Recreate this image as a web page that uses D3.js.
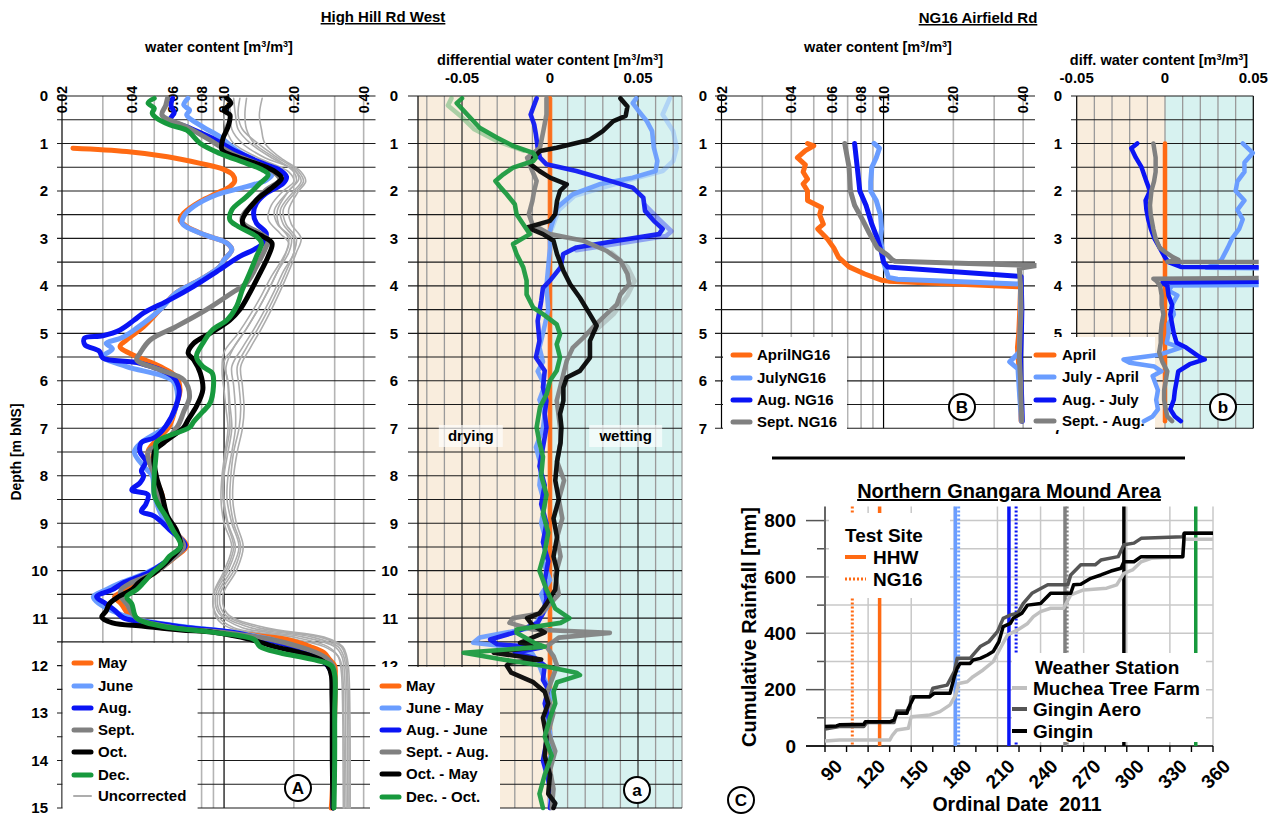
<!DOCTYPE html>
<html>
<head>
<meta charset="utf-8">
<script src="https://cdn.jsdelivr.net/npm/d3@7"></script>
<style>
  body { margin: 0; background: #fff; }
  svg { font-family: "Liberation Sans", Arial, Helvetica, sans-serif; font-weight: bold; }
</style>
</head>
<body>
<svg id="chart" width="1276" height="817"></svg>
<script>
// ---------------- tick labels
var wcTicks = [0.02, 0.04, 0.06, 0.08, 0.10, 0.20, 0.40];
var wcGrid = [0.03, 0.04, 0.05, 0.06, 0.07, 0.08, 0.09, 0.2, 0.3, 0.4];
var diffTicks = [-0.05, 0, 0.05];
var depthLabelsA = [0, 1, 2, 3, 4, 5, 6, 7, 8, 9, 10, 11, 12, 13, 14, 15];
var depthLabelsB = [0, 1, 2, 3, 4, 5, 6, 7];
var dayTicks = [90, 120, 150, 180, 210, 240, 270, 300, 330, 360];
var rainTicks = [0, 200, 400, 600, 800];

// ---------------- High Hill Rd West, water content [depth, m3/m3]
var hhwMay = [[1.1,0.0223],[1.17,0.038],[1.28,0.057],[1.42,0.079],[1.54,0.099],[1.66,0.109],[1.8,0.111],[1.91,0.106],[2.05,0.093],[2.22,0.079],[2.47,0.067],[2.61,0.0646],[2.75,0.069],[2.93,0.083],[3.1,0.103],[3.24,0.108],[3.45,0.1],[3.59,0.096],[3.87,0.079],[4.15,0.062],[4.5,0.053],[4.86,0.045],[5.14,0.038],[5.28,0.0356],[5.49,0.042],[5.7,0.053],[5.91,0.062],[6.19,0.0646],[6.54,0.062],[6.96,0.058],[7.3,0.05],[7.5,0.047],[8.0,0.05],[8.4,0.054],[8.85,0.056],[9.13,0.06],[9.48,0.069],[9.7,0.062],[9.84,0.057],[10.05,0.05],[10.25,0.042],[10.4,0.038],[10.55,0.0337],[10.7,0.036],[11.0,0.04],[11.17,0.05],[11.3,0.1],[11.45,0.187],[11.6,0.235],[11.73,0.27],[11.87,0.285],[12.0,0.3],[12.2,0.302],[13,0.3],[14,0.296],[14.8,0.292],[15,0.29]];
var hhwJune = [[0.05,0.0698],[0.19,0.067],[0.3,0.071],[0.4,0.069],[0.65,0.081],[0.86,0.096],[1.14,0.113],[1.42,0.143],[1.63,0.162],[1.77,0.152],[1.91,0.125],[2.08,0.093],[2.33,0.074],[2.54,0.067],[2.68,0.066],[2.78,0.07],[2.93,0.083],[3.1,0.103],[3.24,0.108],[3.45,0.1],[3.59,0.096],[3.87,0.079],[4.15,0.062],[4.5,0.053],[4.89,0.042],[5.1,0.036],[5.21,0.031],[5.33,0.033],[5.49,0.030],[5.7,0.038],[6.0,0.06],[6.3,0.063],[6.65,0.061],[6.96,0.056],[7.3,0.044],[7.5,0.041],[7.8,0.045],[8.0,0.049],[8.4,0.05],[8.85,0.054],[9.13,0.06],[9.48,0.068],[9.7,0.06],[9.84,0.055],[10.05,0.046],[10.25,0.036],[10.4,0.031],[10.55,0.0273],[10.7,0.029],[10.85,0.033],[11.0,0.04],[11.15,0.06],[11.3,0.11],[11.45,0.16],[11.6,0.198],[11.73,0.23],[11.87,0.26],[12.0,0.28],[12.2,0.295],[13,0.298],[14,0.297],[15,0.295]];
var hhwAug = [[0.05,0.06],[0.2,0.059],[0.35,0.061],[0.5,0.0585],[0.65,0.069],[0.89,0.089],[1.17,0.113],[1.42,0.147],[1.56,0.174],[1.7,0.186],[1.84,0.18],[2.05,0.152],[2.26,0.138],[2.47,0.134],[2.68,0.138],[2.89,0.152],[3.1,0.147],[3.24,0.134],[3.38,0.117],[3.7,0.093],[4.01,0.074],[4.29,0.0585],[4.57,0.045],[4.72,0.041],[4.93,0.0356],[5.05,0.03],[5.1,0.025],[5.24,0.0251],[5.38,0.029],[5.52,0.03],[5.63,0.0434],[5.91,0.06],[6.19,0.064],[6.54,0.062],[6.96,0.056],[7.2,0.05],[7.3,0.044],[7.5,0.0434],[7.7,0.046],[7.9,0.044],[8.0,0.045],[8.15,0.0434],[8.3,0.04],[8.4,0.047],[8.6,0.046],[8.75,0.044],[8.85,0.05],[9.13,0.058],[9.48,0.068],[9.7,0.06],[9.84,0.055],[10.05,0.047],[10.25,0.037],[10.4,0.033],[10.55,0.0282],[10.7,0.031],[10.85,0.034],[11.0,0.037],[11.1,0.05],[11.2,0.07],[11.3,0.11],[11.45,0.15],[11.6,0.198],[11.73,0.235],[11.87,0.26],[12.0,0.28],[12.2,0.293],[13,0.297],[14,0.297],[15,0.295]];
var hhwSept = [[0.05,0.057],[0.2,0.056],[0.4,0.054],[0.65,0.069],[0.93,0.087],[1.21,0.108],[1.45,0.143],[1.63,0.167],[1.77,0.174],[1.98,0.152],[2.26,0.134],[2.54,0.12],[2.68,0.121],[2.89,0.143],[3.03,0.155],[3.17,0.152],[3.59,0.138],[3.94,0.125],[4.15,0.108],[4.5,0.084],[4.86,0.062],[5.14,0.048],[5.42,0.0434],[5.56,0.042],[5.77,0.053],[5.98,0.067],[6.33,0.071],[6.65,0.067],[6.96,0.063],[7.3,0.055],[7.5,0.047],[8.0,0.05],[8.4,0.052],[8.85,0.056],[9.13,0.06],[9.48,0.067],[9.84,0.057],[10.05,0.05],[10.25,0.04],[10.4,0.036],[10.55,0.036],[10.7,0.038],[11.0,0.042],[11.2,0.06],[11.3,0.1],[11.45,0.16],[11.6,0.21],[11.73,0.25],[11.87,0.28],[12.0,0.295],[12.2,0.3],[13,0.3],[14,0.298],[15,0.296]];
var hhwOct = [[0.05,0.103],[0.15,0.107],[0.3,0.1],[0.4,0.106],[0.65,0.104],[0.89,0.099],[1.14,0.098],[1.28,0.113],[1.45,0.143],[1.6,0.167],[1.73,0.177],[1.91,0.163],[2.19,0.138],[2.61,0.12],[2.75,0.122],[2.96,0.147],[3.1,0.161],[3.38,0.155],[3.73,0.143],[4.15,0.129],[4.5,0.117],[4.72,0.106],[5.0,0.087],[5.21,0.074],[5.42,0.07],[5.56,0.074],[5.84,0.079],[6.19,0.081],[6.54,0.076],[6.82,0.07],[6.98,0.067],[7.3,0.055],[7.5,0.05],[8.0,0.051],[8.4,0.054],[8.85,0.057],[9.13,0.062],[9.48,0.065],[9.7,0.06],[9.84,0.056],[10.05,0.05],[10.25,0.043],[10.4,0.04],[10.55,0.035],[10.7,0.032],[10.85,0.031],[10.98,0.0297],[11.1,0.033],[11.17,0.045],[11.25,0.065],[11.3,0.09],[11.45,0.13],[11.6,0.165],[11.73,0.215],[11.87,0.26],[12.0,0.28],[12.2,0.29],[12.6,0.292],[13,0.293],[14,0.293],[15,0.295]];
var hhwDec = [[0.05,0.05],[0.15,0.047],[0.26,0.05],[0.36,0.049],[0.46,0.051],[0.61,0.0585],[0.72,0.069],[1.0,0.079],[1.21,0.096],[1.42,0.125],[1.56,0.147],[1.66,0.155],[1.84,0.143],[2.12,0.125],[2.4,0.108],[2.61,0.106],[2.75,0.115],[2.96,0.138],[3.1,0.145],[3.38,0.138],[3.73,0.129],[4.08,0.12],[4.44,0.113],[4.72,0.103],[4.93,0.089],[5.21,0.081],[5.49,0.076],[5.7,0.081],[5.84,0.089],[6.12,0.09],[6.47,0.087],[6.65,0.081],[6.86,0.074],[6.98,0.071],[7.3,0.051],[7.5,0.051],[8.0,0.05],[8.4,0.05],[8.6,0.052],[8.85,0.056],[9.13,0.06],[9.48,0.065],[9.7,0.058],[9.84,0.055],[10.05,0.049],[10.25,0.045],[10.4,0.042],[10.55,0.038],[10.7,0.04],[11.0,0.042],[11.17,0.054],[11.3,0.09],[11.45,0.135],[11.6,0.143],[11.73,0.174],[11.87,0.24],[12.0,0.29],[12.2,0.3],[13,0.3],[14,0.3],[15,0.298]];

// uncorrected profiles (thin grey)
var unc1 = [[0.05,0.099],[0.3,0.101],[0.5,0.1],[0.8,0.104],[1.0,0.11],[1.3,0.14],[1.6,0.19],[1.8,0.2],[2.0,0.18],[2.3,0.16],[2.6,0.155],[2.9,0.175],[3.1,0.19],[3.4,0.18],[3.8,0.16],[4.2,0.145],[4.6,0.13],[5.0,0.115],[5.4,0.1],[5.8,0.098],[6.2,0.1],[6.6,0.102],[7.0,0.104],[7.5,0.101],[8.0,0.098],[8.5,0.097],[9.0,0.1],[9.5,0.108],[10.0,0.1],[10.5,0.09],[11.0,0.093],[11.2,0.105],[11.4,0.18],[11.6,0.27],[11.8,0.31],[12.0,0.322],[13,0.328],[14,0.33],[15,0.33]];
var unc2 = [[0.05,0.104],[0.4,0.107],[0.7,0.108],[1.0,0.12],[1.3,0.15],[1.55,0.2],[1.75,0.21],[2.0,0.19],[2.4,0.165],[2.7,0.17],[3.0,0.195],[3.3,0.19],[3.7,0.17],[4.1,0.155],[4.5,0.14],[4.9,0.125],[5.3,0.11],[5.6,0.1],[6.0,0.104],[6.5,0.106],[7.0,0.108],[7.5,0.104],[8.0,0.1],[8.5,0.1],[9.0,0.104],[9.5,0.112],[10.0,0.104],[10.5,0.092],[10.9,0.095],[11.2,0.12],[11.4,0.22],[11.6,0.3],[11.8,0.322],[12.1,0.33],[13,0.334],[14,0.335],[15,0.336]];
var unc3 = [[0.05,0.11],[0.4,0.112],[0.7,0.115],[1.0,0.13],[1.3,0.16],[1.6,0.205],[1.8,0.215],[2.0,0.2],[2.4,0.175],[2.7,0.18],[3.0,0.2],[3.3,0.2],[3.7,0.18],[4.1,0.165],[4.5,0.15],[4.9,0.135],[5.3,0.12],[5.7,0.108],[6.1,0.11],[6.6,0.112],[7.0,0.112],[7.5,0.108],[8.0,0.104],[8.5,0.103],[9.0,0.108],[9.5,0.116],[10.0,0.107],[10.5,0.094],[10.9,0.097],[11.2,0.13],[11.4,0.24],[11.6,0.31],[11.8,0.328],[12.1,0.336],[13,0.34],[14,0.341],[15,0.342]];
var unc4 = [[0.05,0.117],[0.4,0.115],[0.7,0.12],[1.0,0.14],[1.3,0.17],[1.6,0.21],[1.8,0.22],[2.0,0.205],[2.4,0.18],[2.7,0.185],[3.0,0.205],[3.3,0.2],[3.7,0.185],[4.1,0.17],[4.5,0.155],[4.9,0.14],[5.3,0.125],[5.7,0.114],[6.1,0.116],[6.6,0.118],[7.0,0.116],[7.5,0.11],[8.0,0.107],[8.5,0.106],[9.0,0.11],[9.5,0.118],[10.0,0.11],[10.5,0.096],[10.9,0.1],[11.2,0.14],[11.4,0.26],[11.6,0.32],[11.8,0.334],[12.1,0.34],[13,0.345],[14,0.346],[15,0.346]];
var unc5 = [[0.05,0.125],[0.4,0.123],[0.7,0.125],[1.0,0.135],[1.3,0.165],[1.6,0.2],[1.8,0.205],[2.0,0.19],[2.4,0.17],[2.7,0.172],[3.0,0.19],[3.3,0.185],[3.7,0.17],[4.1,0.155],[4.5,0.14],[4.9,0.125],[5.3,0.11],[5.7,0.102],[6.1,0.104],[6.6,0.105],[7.0,0.106],[7.5,0.102],[8.0,0.099],[8.5,0.099],[9.0,0.103],[9.5,0.11],[10.0,0.102],[10.5,0.09],[10.9,0.092],[11.2,0.11],[11.4,0.2],[11.6,0.28],[11.8,0.31],[12.1,0.32],[13,0.325],[14,0.326],[15,0.327]];
var unc6 = [[0.05,0.146],[0.4,0.142],[0.7,0.145],[1.0,0.15],[1.3,0.175],[1.6,0.215],[1.8,0.225],[2.0,0.21],[2.4,0.19],[2.7,0.195],[3.0,0.215],[3.3,0.205],[3.7,0.19],[4.1,0.175],[4.5,0.16],[4.9,0.145],[5.3,0.13],[5.7,0.118],[6.1,0.12],[6.6,0.122],[7.0,0.12],[7.5,0.114],[8.0,0.11],[8.5,0.109],[9.0,0.113],[9.5,0.121],[10.0,0.113],[10.5,0.099],[10.9,0.103],[11.2,0.15],[11.4,0.27],[11.6,0.325],[11.8,0.338],[12.1,0.345],[13,0.349],[14,0.35],[15,0.35]];

// ---------------- High Hill Rd West, differential water content
var dMay = [[0.05,0],[15,0]];
var dJuneMay = [[0.05,0.049],[0.15,0.047],[0.3,0.05],[0.53,0.055],[0.74,0.058],[1.09,0.059],[1.37,0.061],[1.58,0.06],[1.72,0.047],[1.86,0.028],[2.07,0.013],[2.35,0.004],[2.63,0.0017],[2.84,0.0],[3.2,0.0],[3.6,-0.001],[4.0,-0.002],[4.5,-0.001],[5.0,-0.004],[5.3,-0.006],[5.6,-0.004],[5.8,-0.007],[6.1,-0.003],[6.4,-0.006],[6.7,-0.003],[7.0,-0.004],[7.4,-0.008],[7.8,-0.005],[8.2,-0.006],[8.6,-0.003],[9.0,-0.005],[9.4,-0.002],[9.8,-0.004],[10.2,0.0],[10.5,-0.005],[10.8,-0.002],[11.0,-0.006],[11.2,-0.01],[11.41,-0.04],[11.52,-0.0436],[11.62,-0.02],[11.75,-0.01],[12.0,-0.006],[12.3,-0.003],[12.6,0.001],[13.0,-0.002],[13.4,0.0],[13.8,0.001],[14.2,-0.002],[14.6,0.0],[15.0,0.0]];
var dAugJune = [[0.05,-0.0076],[0.39,-0.011],[0.6,-0.009],[0.81,-0.008],[1.09,-0.007],[1.3,-0.0057],[1.44,-0.002],[1.58,0.015],[1.72,0.028],[1.93,0.047],[2.14,0.053],[2.42,0.054],[2.63,0.059],[2.8,0.064],[2.91,0.062],[3.05,0.038],[3.19,0.015],[3.33,0.0075],[3.61,0.006],[3.89,0.0],[4.04,-0.004],[4.32,-0.005],[4.74,-0.007],[5.16,-0.006],[5.51,-0.008],[5.79,-0.003],[6.14,-0.004],[6.42,-0.002],[6.7,-0.003],[6.98,-0.002],[7.4,-0.004],[7.8,-0.006],[8.2,-0.003],[8.6,-0.005],[9.0,-0.002],[9.4,-0.004],[9.8,-0.001],[10.2,-0.003],[10.6,-0.002],[10.9,-0.004],[11.1,-0.007],[11.3,-0.02],[11.45,-0.034],[11.55,-0.03],[11.62,-0.005],[11.73,-0.02],[11.85,-0.008],[12.0,-0.003],[12.3,-0.004],[12.5,-0.001],[12.8,-0.003],[13.2,0.0],[13.6,-0.002],[14.0,-0.004],[14.4,-0.001],[14.8,0.001],[15.0,0.0]];
var dSeptAug = [[0.05,-0.002],[0.39,-0.002],[0.74,-0.0038],[1.09,-0.0057],[1.3,-0.013],[1.5,-0.011],[1.79,-0.0076],[2.0,-0.009],[2.21,-0.01],[2.49,-0.012],[2.7,-0.01],[2.91,0.0],[3.05,0.019],[3.26,0.032],[3.47,0.04],[3.75,0.044],[3.96,0.045],[4.18,0.04],[4.39,0.038],[4.6,0.032],[4.81,0.026],[5.09,0.019],[5.3,0.013],[5.58,0.0095],[5.86,0.0076],[6.14,0.0057],[6.42,0.0038],[6.7,0.0048],[6.98,0.0057],[7.3,0.006],[7.7,0.004],[8.1,0.008],[8.5,0.005],[8.9,0.007],[9.3,0.004],[9.7,0.006],[10.1,0.003],[10.5,0.005],[10.9,-0.005],[11.0,-0.021],[11.1,-0.023],[11.24,-0.01],[11.31,0.034],[11.41,0.005],[11.6,-0.002],[11.8,0.002],[12.0,0.004],[12.3,0.001],[12.6,-0.002],[13.0,0.002],[13.4,-0.001],[13.8,0.003],[14.2,0.0],[14.6,0.002],[15.0,0.001]];
var dOctMay = [[0.05,0.04],[0.22,0.044],[0.42,0.043],[0.53,0.036],[0.74,0.03],[0.92,0.0227],[1.09,0.0038],[1.16,-0.0057],[1.3,-0.0095],[1.44,-0.011],[1.58,-0.006],[1.72,0.0],[1.86,0.0095],[2.0,0.0057],[2.21,0.004],[2.49,0.003],[2.63,0.0],[2.77,-0.013],[2.91,-0.004],[3.05,0.002],[3.33,0.004],[3.68,0.0076],[3.96,0.0114],[4.25,0.017],[4.6,0.0227],[4.84,0.0265],[5.16,0.0227],[5.51,0.0227],[5.79,0.017],[5.93,0.0095],[6.14,0.0076],[6.42,0.0076],[6.7,0.0057],[6.98,0.0065],[7.3,0.006],[7.7,0.004],[8.1,0.003],[8.5,0.005],[8.9,0.002],[9.3,0.004],[9.7,0.002],[10.0,0.004],[10.4,0.003],[10.7,-0.002],[10.9,-0.006],[11.0,-0.013],[11.15,-0.01],[11.3,-0.003],[11.52,-0.017],[11.59,-0.005],[11.73,-0.032],[11.87,-0.005],[11.94,-0.023],[12.0,-0.0246],[12.15,-0.022],[12.35,-0.0095],[12.55,-0.003],[12.8,-0.001],[13.1,-0.004],[13.5,-0.002],[13.9,-0.003],[14.3,0.0],[14.7,-0.001],[14.9,0.003],[15.0,0.002]];
var dDecOct = [[0.05,-0.05],[0.15,-0.053],[0.39,-0.047],[0.67,-0.04],[0.88,-0.03],[1.05,-0.021],[1.2,-0.0095],[1.3,-0.008],[1.37,-0.0095],[1.51,-0.021],[1.65,-0.0265],[1.79,-0.031],[1.93,-0.028],[2.07,-0.0246],[2.28,-0.02],[2.49,-0.019],[2.7,-0.0152],[2.91,-0.0114],[3.12,-0.021],[3.33,-0.019],[3.61,-0.0152],[3.89,-0.0133],[4.18,-0.0133],[4.46,-0.0095],[4.6,-0.0038],[4.81,0.0038],[5.02,0.0057],[5.23,0.0038],[5.51,0.0057],[5.79,0.0038],[6.0,0.0],[6.28,-0.0019],[6.56,-0.0057],[6.98,-0.0076],[7.3,-0.006],[7.6,-0.004],[8.0,-0.005],[8.4,-0.002],[8.8,-0.004],[9.2,-0.001],[9.6,-0.003],[10.0,-0.006],[10.4,-0.002],[10.8,0.003],[11.0,0.011],[11.1,0.006],[11.24,-0.019],[11.31,-0.019],[11.52,-0.009],[11.6,-0.003],[11.73,-0.049],[11.87,-0.027],[11.94,-0.015],[12.0,-0.005],[12.15,0.015],[12.2,0.017],[12.35,0.004],[12.55,0.002],[12.8,0.003],[13.1,0.0],[13.5,-0.003],[13.9,0.001],[14.3,-0.003],[14.7,-0.006],[15.0,-0.004]];
// faint duplicates visible behind some difference profiles
var dJuneMayFaint = [[0.05,0.068],[0.39,0.064],[0.74,0.07],[1.09,0.072],[1.37,0.07],[1.58,0.064],[1.75,0.047],[1.93,0.03],[2.1,0.014],[2.4,0.005],[2.8,0.001]];
var dAugJuneFaint = [[2.3,0.054],[2.6,0.062],[2.85,0.069],[2.95,0.066],[3.1,0.04],[3.25,0.015]];
var dDecOctFaint = [[0.05,-0.056],[0.2,-0.058],[0.45,-0.05],[0.7,-0.043],[0.95,-0.03],[1.15,-0.015]];
var dSeptAugFaint = [[3.3,0.035],[3.6,0.044],[3.9,0.048],[4.2,0.044],[4.6,0.036],[5.0,0.024]];

// ---------------- NG16 Airfield Rd, water content
var ngApril = [[1.0,0.047],[1.05,0.050],[1.15,0.046],[1.3,0.0425],[1.45,0.046],[1.6,0.045],[1.75,0.047],[1.85,0.045],[2.0,0.047],[2.2,0.047],[2.35,0.054],[2.5,0.053],[2.7,0.055],[2.8,0.052],[3.0,0.057],[3.2,0.061],[3.4,0.064],[3.6,0.071],[3.75,0.083],[3.88,0.098],[3.9,0.105],[4.02,0.39],[4.5,0.387],[5.0,0.383],[5.3,0.378],[5.6,0.382],[6.0,0.387],[6.5,0.39],[6.85,0.392]];
var ngJuly = [[1.0,0.091],[1.1,0.096],[1.3,0.093],[1.5,0.089],[1.8,0.088],[2.0,0.088],[2.2,0.093],[2.5,0.097],[2.8,0.098],[3.0,0.097],[3.3,0.099],[3.5,0.1],[3.7,0.103],[3.82,0.105],[3.86,0.115],[3.96,0.39],[4.5,0.39],[5.0,0.388],[5.4,0.385],[5.6,0.35],[5.75,0.38],[6.2,0.385],[6.6,0.39],[6.85,0.393]];
var ngAug = [[1.0,0.075],[1.5,0.077],[2.0,0.079],[2.3,0.084],[2.7,0.089],[3.0,0.094],[3.3,0.098],[3.5,0.1],[3.6,0.104],[3.8,0.392],[4.5,0.395],[5.0,0.393],[5.5,0.39],[6.0,0.392],[6.5,0.395],[6.85,0.397]];
var ngSept = [[1.0,0.068],[1.5,0.071],[2.0,0.072],[2.3,0.075],[2.6,0.081],[2.9,0.087],[3.2,0.094],[3.35,0.104],[3.45,0.109],[3.48,0.112],[3.57,0.46],[3.63,0.385],[4.0,0.39],[4.5,0.392],[5.0,0.388],[5.5,0.385],[6.0,0.39],[6.5,0.392],[6.85,0.395]];

// ---------------- NG16 differential water content
var ngdApril = [[1.0,0],[6.85,0]];
var ngdJulyApril = [[1.0,0.044],[1.2,0.0497],[1.4,0.045],[1.6,0.045],[1.8,0.041],[2.0,0.04],[2.2,0.045],[2.4,0.041],[2.6,0.044],[2.8,0.042],[3.0,0.038],[3.2,0.0355],[3.45,0.032],[3.55,0.028],[3.62,0.0235],[3.66,0.2],[3.95,0.2],[3.99,0.004],[4.1,0.002],[4.2,0.007],[4.4,0.004],[4.6,0.005],[4.8,0.002],[5.0,0.002],[5.2,0.001],[5.3,0.009],[5.45,-0.003],[5.55,-0.0235],[5.62,-0.02],[5.7,-0.006],[5.8,-0.002],[5.9,-0.007],[6.0,-0.006],[6.2,-0.004],[6.4,-0.005],[6.6,-0.004],[6.75,-0.007],[6.85,-0.012]];
var ngdAugJuly = [[1.0,-0.0157],[1.1,-0.0191],[1.3,-0.0165],[1.5,-0.0133],[1.8,-0.0105],[2.0,-0.0085],[2.2,-0.011],[2.4,-0.0105],[2.6,-0.0095],[2.8,-0.008],[3.0,-0.006],[3.2,-0.003],[3.4,0.0],[3.5,0.002],[3.6,0.009],[3.63,0.2],[3.87,0.2],[3.93,-0.0015],[4.0,0.0013],[4.2,0.002],[4.4,0.004],[4.6,0.003],[4.8,0.004],[5.0,0.005],[5.2,0.0066],[5.3,0.012],[5.5,0.0197],[5.55,0.0225],[5.65,0.014],[5.8,0.0075],[6.0,0.0066],[6.2,0.0056],[6.4,0.005],[6.6,0.003],[6.75,0.0056],[6.85,0.009]];
var ngdSeptAug = [[1.0,-0.0066],[1.3,-0.0053],[1.6,-0.0053],[1.8,-0.0062],[2.0,-0.0077],[2.3,-0.0085],[2.5,-0.0081],[2.8,-0.0066],[3.0,-0.0053],[3.2,-0.003],[3.3,0.0006],[3.4,0.0047],[3.45,0.0076],[3.49,0.0013],[3.51,0.2],[3.8,0.2],[3.85,-0.0066],[3.9,-0.0047],[4.0,-0.0028],[4.2,-0.0019],[4.4,-0.0019],[4.6,-0.0009],[4.8,-0.0019],[5.0,-0.0024],[5.2,-0.0024],[5.4,-0.0033],[5.6,-0.0015],[5.8,0.0013],[6.0,0.0004],[6.2,-0.0005],[6.4,-0.0005],[6.6,0.0004],[6.75,0.0013],[6.85,0.004]];

// ---------------- Cumulative rainfall [ordinal day, mm]
var rainMuchea = [[90,18],[100,21],[135,21],[137,39],[140,57],[148,63],[150,104],[163,110],[170,122],[177,146],[181,181],[183,222],[189,228],[193,246],[200,270],[207,299],[212,347],[217,394],[224,412],[231,435],[235,459],[240,477],[247,489],[256,489],[261,536],[270,554],[286,560],[293,572],[298,613],[304,625],[310,654],[317,666],[339,672],[340,734],[360,734]];
var rainGinginAero = [[90,60],[100,69],[117,69],[119,83],[138,83],[140,124],[147,124],[149,134],[150,175],[163,175],[165,205],[175,216],[180,264],[182,311],[191,311],[193,323],[198,353],[204,370],[210,406],[214,453],[219,465],[224,471],[228,506],[234,542],[245,572],[259,572],[261,607],[268,643],[278,643],[282,660],[294,672],[298,714],[305,720],[310,737],[339,743],[340,755],[360,755]];
var rainGingin = [[90,69],[98,71],[100,75],[117,77],[118,86],[135,86],[138,92],[140,116],[147,116],[148,134],[152,175],[163,175],[166,187],[177,187],[180,246],[182,276],[184,293],[191,293],[193,305],[198,311],[203,323],[207,335],[211,370],[214,424],[219,435],[221,453],[227,471],[231,500],[240,506],[247,542],[261,542],[263,572],[268,574],[275,595],[282,607],[289,621],[296,631],[298,654],[305,654],[310,672],[339,672],[340,755],[360,755]];

// measurement dates (ordinal day)
var hhwDates = [128, 180.7, 218, 257, 298, 348];
var ng16Dates = [109, 183, 223, 258.5];

// ---------------- colours
var cOrange = "#ff6a13", cLight = "#6a9dff", cBlue = "#0a14f5", cGray = "#808080", cBlack = "#000000", cGreen = "#17993d";
var hhwColors = [cOrange, cLight, cBlue, cGray, cBlack, cGreen];
var ngColors = [cOrange, cLight, cBlue, cGray];

var svg = d3.select("#chart");
var defs = svg.append("defs");

function clip(id, x, y, w, h) {
    defs.append("clipPath").attr("id", id).append("rect")
        .attr("x", x).attr("y", y).attr("width", w).attr("height", h);
}

function unitTitle(x, y, prefix, size) {
    var t = svg.append("text").attr("x", x).attr("y", y)
        .attr("text-anchor", "middle").attr("font-size", size);
    t.append("tspan").text(prefix + " [m");
    t.append("tspan").attr("dy", -5).attr("font-size", size * 0.62).text("3");
    t.append("tspan").attr("dy", 5).text("/m");
    t.append("tspan").attr("dy", -5).attr("font-size", size * 0.62).text("3");
    t.append("tspan").attr("dy", 5).text("]");
}

function circled(x, y, letter) {
    svg.append("circle").attr("cx", x).attr("cy", y).attr("r", 13)
        .attr("fill", "#fff").attr("stroke", "#000").attr("stroke-width", 2);
    svg.append("text").attr("x", x).attr("y", y).attr("dy", "0.36em")
        .attr("text-anchor", "middle").attr("font-size", 17).text(letter);
}

function legend(items, x0, lineLen, textX, rows, size) {
    items.forEach(function(it, i) {
        svg.append("line").attr("x1", x0).attr("x2", x0 + lineLen)
            .attr("y1", rows[i]).attr("y2", rows[i])
            .attr("stroke", it.color).attr("stroke-width", it.width || 5)
            .attr("stroke-linecap", "round");
        svg.append("text").attr("x", textX).attr("y", rows[i]).attr("dy", "0.36em")
            .attr("font-size", size).text(it.label);
    });
}

function hGrid(y, depths, x1, x2) {
    svg.append("g").selectAll("line").data(depths).enter().append("line")
        .attr("x1", x1).attr("x2", x2)
        .attr("y1", function(d) { return y(d); }).attr("y2", function(d) { return y(d); })
        .attr("stroke", "#1a1a1a").attr("stroke-width", 1.1);
}

function depthLabels(y, labels, x) {
    svg.append("g").selectAll("text").data(labels).enter().append("text")
        .attr("x", x).attr("y", function(d) { return y(d); }).attr("dy", "0.36em")
        .attr("text-anchor", "end").attr("font-size", 15).text(function(d) { return d; });
}

function profiles(id, x, y, series, colors, width, curve) {
    var line = d3.line()
        .x(function(d) { return x(d[1]); })
        .y(function(d) { return y(d[0]); })
        .curve(curve || d3.curveLinear);
    var g = svg.append("g").attr("clip-path", "url(#" + id + ")");
    series.forEach(function(s, i) {
        g.append("path").attr("d", line(s)).attr("fill", "none")
            .attr("stroke", colors[i]).attr("stroke-width", width)
            .attr("stroke-linejoin", "round").attr("stroke-linecap", "round");
    });
    return g;
}

function logGrid(x, y, maxDepth) {
    svg.append("g").selectAll("line").data(wcGrid).enter().append("line")
        .attr("x1", function(d) { return x(d); }).attr("x2", function(d) { return x(d); })
        .attr("y1", y(0)).attr("y2", y(maxDepth))
        .attr("stroke", "#b4b4b4").attr("stroke-width", 1.6);
    svg.append("line").attr("x1", x(0.1)).attr("x2", x(0.1)).attr("y1", y(0)).attr("y2", y(maxDepth))
        .attr("stroke", "#000").attr("stroke-width", 1.2);
    svg.append("line").attr("x1", x(0.02)).attr("x2", x(0.02)).attr("y1", y(0)).attr("y2", y(maxDepth))
        .attr("stroke", "#000").attr("stroke-width", 1.2);
    svg.append("g").selectAll("text").data(wcTicks).enter().append("text")
        .attr("transform", function(d) { return "translate(" + x(d) + ",86) rotate(-90)"; })
        .attr("dy", "0.36em").attr("text-anchor", "end").attr("font-size", 14)
        .text(function(d) { return d.toFixed(2); });
}

function diffTicksTop(x, yBase) {
    svg.append("g").selectAll("text").data(diffTicks).enter().append("text")
        .attr("x", function(d) { return x(d); }).attr("y", yBase)
        .attr("text-anchor", "middle").attr("font-size", 15)
        .text(function(d) { return d === 0 ? "0" : d.toFixed(2); });
}

// ================= titles
svg.append("text").attr("x", 383).attr("y", 22).attr("text-anchor", "middle")
    .attr("font-size", 15).style("text-decoration", "underline").text("High Hill Rd West");
svg.append("text").attr("x", 978).attr("y", 23).attr("text-anchor", "middle")
    .attr("font-size", 15).style("text-decoration", "underline").text("NG16 Airfield Rd");

// ================= Panel A
var yA = d3.scaleLinear().domain([0, 15]).range([96, 808]);
var xA = d3.scaleLog().domain([0.02, 0.45]).range([62, 375.5]);
clip("clipA", 62, 90, 313.5, 722);
logGrid(xA, yA, 15);
hGrid(yA, d3.range(0, 15.01, 0.5), 57, 375.5);
depthLabels(yA, depthLabelsA, 48);
unitTitle(219, 52, "water content", 14.5);
svg.append("text").attr("transform", "translate(16,452) rotate(-90)").attr("dy", "0.36em")
    .attr("text-anchor", "middle").attr("font-size", 14).text("Depth [m bNS]");
svg.append("rect").attr("x", 62.6).attr("y", 643).attr("width", 135).attr("height", 168).attr("fill", "#fff");
profiles("clipA", xA, yA, [unc1, unc2, unc3, unc4, unc5, unc6],
    ["#adadad", "#adadad", "#adadad", "#adadad", "#adadad", "#adadad"], 1.6, d3.curveCatmullRom.alpha(0.5));
profiles("clipA", xA, yA, [hhwMay, hhwJune, hhwAug, hhwSept, hhwOct, hhwDec],
    hhwColors, 5, d3.curveCatmullRom.alpha(0.5));
legend([
    {label: "May", color: cOrange}, {label: "June", color: cLight}, {label: "Aug.", color: cBlue},
    {label: "Sept.", color: cGray}, {label: "Oct.", color: cBlack}, {label: "Dec.", color: cGreen},
    {label: "Uncorrected", color: "#adadad", width: 2}
], 74, 17, 98, [663, 686, 708, 730, 752, 775, 796], 15);
circled(298, 788, "A");

// ================= Panel a
var xa = d3.scaleLinear().domain([-0.075, 0.075]).range([418, 682]);
clip("clipa", 418, 90, 264, 722);
svg.append("rect").attr("x", xa(-0.075)).attr("y", yA(0)).attr("width", xa(0) - xa(-0.075))
    .attr("height", yA(15) - yA(0)).attr("fill", "#f9eddd");
svg.append("rect").attr("x", xa(0)).attr("y", yA(0)).attr("width", xa(0.075) - xa(0))
    .attr("height", yA(15) - yA(0)).attr("fill", "#d7f2f0");
svg.append("g").selectAll("line").data(d3.range(-0.07, 0.0701, 0.01)).enter().append("line")
    .attr("x1", function(d) { return xa(d); }).attr("x2", function(d) { return xa(d); })
    .attr("y1", yA(0)).attr("y2", yA(15))
    .attr("stroke", function(d) { return Math.abs(Math.abs(d) - 0.05) < 1e-6 ? "#333" : "#9a9a9a"; })
    .attr("stroke-width", 1.3);
svg.append("line").attr("x1", xa(-0.075)).attr("x2", xa(-0.075)).attr("y1", yA(0)).attr("y2", yA(15))
    .attr("stroke", "#000").attr("stroke-width", 1.2);
svg.append("line").attr("x1", xa(0.075)).attr("x2", xa(0.075)).attr("y1", yA(0)).attr("y2", yA(15))
    .attr("stroke", "#999").attr("stroke-width", 1.2);
hGrid(yA, d3.range(0, 15.01, 0.5), 408, 682);
depthLabels(yA, depthLabelsA, 398);
unitTitle(550, 65, "differential water content", 14.5);
diffTicksTop(xa, 83);
// drying / wetting labels
[["drying", -0.045, 64], ["wetting", 0.043, 73]].forEach(function(l) {
    svg.append("rect").attr("x", xa(l[1]) - l[2] / 2).attr("y", 425).attr("width", l[2]).attr("height", 22)
        .attr("fill", "#fff").attr("opacity", 0.65);
    svg.append("text").attr("x", xa(l[1])).attr("y", 436).attr("dy", "0.36em")
        .attr("text-anchor", "middle").attr("font-size", 15).text(l[0]);
});
var gFaint = profiles("clipa", xa, yA, [dJuneMayFaint, dAugJuneFaint, dSeptAugFaint, dDecOctFaint],
    [cLight, cBlue, cGray, cGreen], 4.6);
gFaint.attr("opacity", 0.35);
profiles("clipa", xa, yA, [dMay, dJuneMay, dAugJune, dSeptAug, dOctMay, dDecOct],
    hhwColors, 4.6).attr("opacity", 0.92);
svg.append("rect").attr("x", 370).attr("y", 667).attr("width", 130).attr("height", 150).attr("fill", "#fff");
legend([
    {label: "May", color: cOrange}, {label: "June - May", color: cLight}, {label: "Aug. - June", color: cBlue},
    {label: "Sept. - Aug.", color: cGray}, {label: "Oct. - May", color: cBlack}, {label: "Dec. - Oct.", color: cGreen}
], 382, 17, 406, [686, 708, 730, 752, 774, 797], 15);
circled(637, 790, "a");

// ================= Panel B
var yB = d3.scaleLinear().domain([0, 7]).range([96, 428.3]);
var xB = d3.scaleLog().domain([0.02, 0.45]).range([721.5, 1035]);
clip("clipB", 721.5, 90, 315, 345);
logGrid(xB, yB, 7);
hGrid(yB, d3.range(0, 7.01, 0.5), 715, 1035);
depthLabels(yB, depthLabelsB, 707);
unitTitle(878, 52, "water content", 14.5);
svg.append("rect").attr("x", 723).attr("y", 337).attr("width", 124).attr("height", 93).attr("fill", "#fff");
profiles("clipB", xB, yB, [ngApril, ngJuly, ngAug, ngSept], ngColors, 5);
legend([
    {label: "AprilNG16", color: cOrange}, {label: "JulyNG16", color: cLight},
    {label: "Aug. NG16", color: cBlue}, {label: "Sept. NG16", color: cGray}
], 733, 17, 757, [355, 378, 400, 422], 15);
circled(962, 407, "B");

// ================= Panel b
var xb = d3.scaleLinear().domain([-0.05, 0.05]).range([1076.7, 1253.3]);
clip("clipb", 1076.7, 90, 182, 345);
svg.append("rect").attr("x", xb(-0.05)).attr("y", yB(0)).attr("width", xb(0) - xb(-0.05))
    .attr("height", yB(7) - yB(0)).attr("fill", "#f9eddd");
svg.append("rect").attr("x", xb(0)).attr("y", yB(0)).attr("width", xb(0.05) - xb(0))
    .attr("height", yB(7) - yB(0)).attr("fill", "#d7f2f0");
svg.append("g").selectAll("line").data(d3.range(-0.04, 0.0401, 0.01)).enter().append("line")
    .attr("x1", function(d) { return xb(d); }).attr("x2", function(d) { return xb(d); })
    .attr("y1", yB(0)).attr("y2", yB(7)).attr("stroke", "#9a9a9a").attr("stroke-width", 1.3);
[-0.05, 0.05].forEach(function(v) {
    svg.append("line").attr("x1", xb(v)).attr("x2", xb(v)).attr("y1", yB(0)).attr("y2", yB(7))
        .attr("stroke", "#000").attr("stroke-width", 1.2);
});
hGrid(yB, d3.range(0, 7.01, 0.5), 1071, 1253.3);
depthLabels(yB, depthLabelsB, 1062);
unitTitle(1159, 65, "diff. water content", 14.5);
diffTicksTop(xb, 83);
svg.append("rect").attr("x", 1032).attr("y", 337).attr("width", 123).attr("height", 93).attr("fill", "#fff");
profiles("clipb", xb, yB, [ngdApril, ngdJulyApril, ngdAugJuly, ngdSeptAug], ngColors, 4.5);
legend([
    {label: "April", color: cOrange}, {label: "July - April", color: cLight},
    {label: "Aug. - July", color: cBlue}, {label: "Sept. - Aug.", color: cGray}
], 1036, 18, 1062, [355, 377, 400, 421], 15);
circled(1223, 407, "b");

// ================= separator
svg.append("line").attr("x1", 772).attr("x2", 1185).attr("y1", 458).attr("y2", 458)
    .attr("stroke", "#000").attr("stroke-width", 3);

// ================= Panel C (cumulative rainfall)
var xC = d3.scaleLinear().domain([90, 360]).range([825, 1213]);
var yC = d3.scaleLinear().domain([0, 850]).range([746, 506.5]);
svg.append("text").attr("x", 1009).attr("y", 498).attr("text-anchor", "middle")
    .attr("font-size", 20).style("text-decoration", "underline").text("Northern Gnangara Mound Area");
// grid
svg.append("g").selectAll("line").data(d3.range(100, 801, 100)).enter().append("line")
    .attr("x1", xC(90)).attr("x2", xC(360))
    .attr("y1", function(d) { return yC(d); }).attr("y2", function(d) { return yC(d); })
    .attr("stroke", "#c8c8c8").attr("stroke-width", 1.5);
svg.append("g").selectAll("line").data(dayTicks.slice(1)).enter().append("line")
    .attr("x1", function(d) { return xC(d); }).attr("x2", function(d) { return xC(d); })
    .attr("y1", yC(850)).attr("y2", yC(0))
    .attr("stroke", "#c8c8c8").attr("stroke-width", 1.5);
// y ticks
svg.append("g").selectAll("line").data(d3.range(0, 801, 100)).enter().append("line")
    .attr("x1", function(d) { return d % 200 === 0 ? xC(90) - 19 : xC(90) - 8; }).attr("x2", xC(90))
    .attr("y1", function(d) { return yC(d); }).attr("y2", function(d) { return yC(d); })
    .attr("stroke", "#555").attr("stroke-width", 1.5);
svg.append("line").attr("x1", xC(90)).attr("x2", xC(90)).attr("y1", yC(850)).attr("y2", yC(0))
    .attr("stroke", "#666").attr("stroke-width", 2);
// x axis
svg.append("line").attr("x1", xC(90) - 19).attr("x2", xC(360)).attr("y1", yC(0)).attr("y2", yC(0))
    .attr("stroke", "#000").attr("stroke-width", 1.6);
svg.append("g").selectAll("line").data(d3.range(90, 361, 15)).enter().append("line")
    .attr("x1", function(d) { return xC(d); }).attr("x2", function(d) { return xC(d); })
    .attr("y1", yC(0)).attr("y2", yC(0) + 6).attr("stroke", "#000").attr("stroke-width", 1.4);
svg.append("g").selectAll("text").data(rainTicks).enter().append("text")
    .attr("x", 796).attr("y", function(d) { return yC(d); }).attr("dy", "0.36em")
    .attr("text-anchor", "end").attr("font-size", 19).text(function(d) { return d; });
svg.append("g").selectAll("text").data(dayTicks).enter().append("text")
    .attr("transform", function(d) { return "translate(" + (xC(d) + 9) + ",758) rotate(-45)"; })
    .attr("dy", "0.7em").attr("text-anchor", "end").attr("font-size", 19).text(function(d) { return d; });
svg.append("text").attr("x", 1017).attr("y", 811).attr("text-anchor", "middle").attr("font-size", 19.5)
    .style("white-space", "pre").text("Ordinal Date  2011");
svg.append("text").attr("transform", "translate(749,627) rotate(-90)").attr("dy", "0.36em")
    .attr("text-anchor", "middle").attr("font-size", 20).text("Cumulative Rainfall [mm]");

// measurement dates
hhwDates.forEach(function(d, i) {
    svg.append("line").attr("x1", xC(d)).attr("x2", xC(d)).attr("y1", yC(850)).attr("y2", yC(0))
        .attr("stroke", hhwColors[i]).attr("stroke-width", 3.5);
});
ng16Dates.forEach(function(d, i) {
    svg.append("line").attr("x1", xC(d)).attr("x2", xC(d)).attr("y1", yC(850)).attr("y2", yC(0))
        .attr("stroke", ngColors[i]).attr("stroke-width", 3).attr("stroke-dasharray", "2,2");
});
// legend boxes
svg.append("rect").attr("x", 829).attr("y", 513).attr("width", 121).attr("height", 85).attr("fill", "#fff");
svg.append("rect").attr("x", 1012).attr("y", 653).attr("width", 194).attr("height", 89).attr("fill", "#fff");

var rainLine = d3.line().x(function(d) { return xC(d[0]); }).y(function(d) { return yC(d[1]); });
[[rainMuchea, "#c0c0c0"], [rainGinginAero, "#555555"], [rainGingin, "#000000"]].forEach(function(s) {
    svg.append("path").attr("d", rainLine(s[0])).attr("fill", "none")
        .attr("stroke", s[1]).attr("stroke-width", 3.5).attr("stroke-linejoin", "round");
});

// legend: test site
svg.append("text").attr("x", 845).attr("y", 535).attr("dy", "0.36em").attr("font-size", 19).text("Test Site");
svg.append("line").attr("x1", 845).attr("x2", 866).attr("y1", 557).attr("y2", 557)
    .attr("stroke", cOrange).attr("stroke-width", 4);
svg.append("text").attr("x", 873).attr("y", 557).attr("dy", "0.36em").attr("font-size", 19).text("HHW");
svg.append("line").attr("x1", 845).attr("x2", 866).attr("y1", 579).attr("y2", 579)
    .attr("stroke", cOrange).attr("stroke-width", 3).attr("stroke-dasharray", "2,2");
svg.append("text").attr("x", 873).attr("y", 579).attr("dy", "0.36em").attr("font-size", 19).text("NG16");
// legend: weather station
svg.append("text").attr("x", 1035).attr("y", 667).attr("dy", "0.36em").attr("font-size", 19).text("Weather Station");
[["Muchea Tree Farm", "#c0c0c0", 688], ["Gingin Aero", "#555555", 709], ["Gingin", "#000000", 731]].forEach(function(r) {
    svg.append("line").attr("x1", 1012).attr("x2", 1027).attr("y1", r[2]).attr("y2", r[2])
        .attr("stroke", r[1]).attr("stroke-width", 4);
    svg.append("text").attr("x", 1033).attr("y", r[2]).attr("dy", "0.36em").attr("font-size", 19).text(r[0]);
});
circled(741, 800, "C");
</script>
</body>
</html>
